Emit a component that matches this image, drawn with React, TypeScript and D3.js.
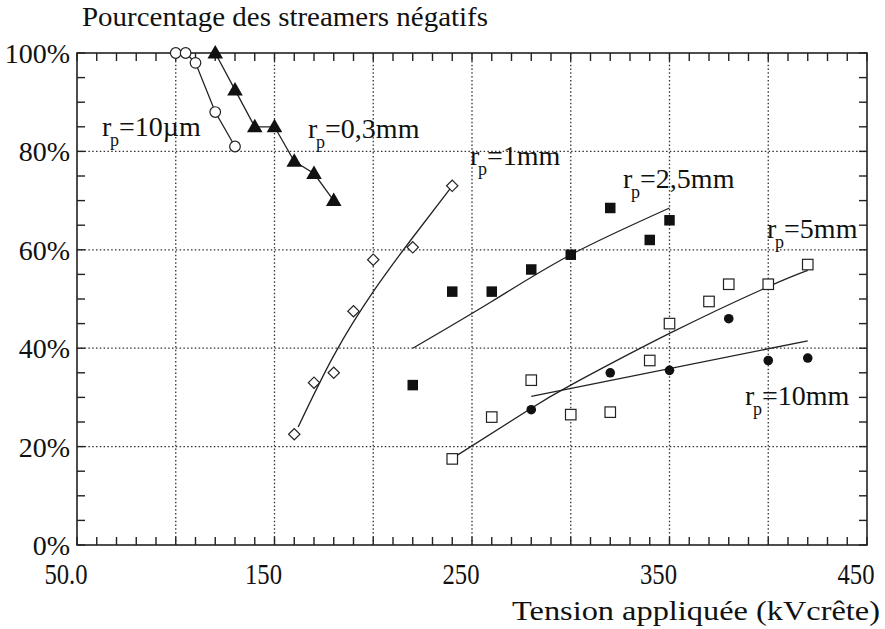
import React from "react";
import * as d3 from "d3";

// ---- data (kV crête, % streamers négatifs) ----
const rp10umV = [100, 105, 110, 120, 130];
const rp10umPct = [100, 100, 98, 88, 81];

const rp03mmV = [120, 130, 140, 150, 160, 170, 180];
const rp03mmPct = [100, 92.5, 85, 85, 78, 75.5, 70];

const rp1mmV = [160, 170, 180, 190, 200, 220, 240];
const rp1mmPct = [22.5, 33, 35, 47.5, 58, 60.5, 73];

const rp25mmV = [220, 240, 260, 280, 300, 320, 340, 350];
const rp25mmPct = [32.5, 51.5, 51.5, 56, 59, 68.5, 62, 66];

const rp5mmV = [240, 260, 280, 300, 320, 340, 350, 370, 380, 400, 420];
const rp5mmPct = [17.5, 26, 33.5, 26.5, 27, 37.5, 45, 49.5, 53, 53, 57];

const rp10mmV = [280, 320, 350, 380, 400, 420];
const rp10mmPct = [27.5, 35, 35.5, 46, 37.5, 38];

// fitted trend curves
const fit1mmV = [162, 180, 200, 220, 240];
const fit1mmPct = [24, 38.5, 51.5, 62.5, 73];
const fit25mmV = [220, 260, 300, 350];
const fit25mmPct = [40, 49.5, 59, 68.5];
const fit5mmV = [240, 280, 300, 350, 400, 420];
const fit5mmPct = [17.6, 27.8, 32.5, 43, 52.5, 55.8];
const fit10mmV = [280, 420];
const fit10mmPct = [30.2, 41.5];

const xTickValues = [50, 150, 250, 350, 450];
const xTickLabels = ["50.0", "150", "250", "350", "450"];
const yTickValues = [0, 20, 40, 60, 80, 100];
const yTickLabels = ["0%", "20%", "40%", "60%", "80%", "100%"];

const labelTexts = ["=10µm", "=0,3mm", "=1mm", "=2,5mm", "=5mm", "=10mm"];
const labelV = [62.7, 167, 249, 326.5, 399.4, 388.2];
const labelPct = [83.1, 82.7, 77.2, 72.6, 62.4, 28.5];

const titleText = "Pourcentage des streamers négatifs";
const xTitleText = "Tension appliquée (kVcrête)";

const W = 885;
const H = 629;
const FONT = "'Liberation Serif', 'Times New Roman', serif";

export default function App() {
  const x = d3.scaleLinear().domain([50, 450]).range([77, 867]);
  const y = d3.scaleLinear().domain([0, 100]).range([545, 53]);

  const zip = (vs: number[], ps: number[]) => vs.map((v, i) => [v, ps[i]] as [number, number]);
  const line = d3
    .line<[number, number]>()
    .x((d) => x(d[0]))
    .y((d) => y(d[1]));
  const curve = d3
    .line<[number, number]>()
    .x((d) => x(d[0]))
    .y((d) => y(d[1]))
    .curve(d3.curveNatural);

  const minorX = d3.range(50, 451, 10);
  const minorY = d3.range(0, 101, 5);
  const gridX = [100, 150, 200, 250, 300, 350, 400];
  const gridY = [20, 40, 60, 80];

  const triPath = d3.symbol(d3.symbolTriangle, 105)()!;
  const sqSize = 10.5;

  return (
    <svg width={W} height={H} style={{ display: "block", position: "absolute", left: 0, top: 0, background: "#fff" }}>
      <rect x={0} y={0} width={W} height={H} fill="#fff" />
      {/* grid */}
      <g stroke="#333" strokeWidth={1.3} strokeDasharray="1.5 2.3">
        {gridX.map((v) => (
          <line key={"gx" + v} x1={x(v)} x2={x(v)} y1={y(0)} y2={y(100)} />
        ))}
        {gridY.map((v) => (
          <line key={"gy" + v} x1={x(50)} x2={x(450)} y1={y(v)} y2={y(v)} />
        ))}
      </g>
      {/* ticks */}
      <g stroke="#222" strokeWidth={1.4}>
        {minorX.map((v) => (
          <g key={"tx" + v}>
            <line x1={x(v)} x2={x(v)} y1={y(0)} y2={y(0) - 8} />
            <line x1={x(v)} x2={x(v)} y1={y(100)} y2={y(100) + 8} />
          </g>
        ))}
        {minorY.map((v) => (
          <g key={"ty" + v}>
            <line x1={x(50)} x2={x(50) + 8} y1={y(v)} y2={y(v)} />
            <line x1={x(450)} x2={x(450) - 8} y1={y(v)} y2={y(v)} />
          </g>
        ))}
      </g>
      <rect x={x(50)} y={y(100)} width={x(450) - x(50)} height={y(0) - y(100)} fill="none" stroke="#222" strokeWidth={1.6} />

      {/* fit curves and connecting lines */}
      <g fill="none" stroke="#222" strokeWidth={1.3}>
        <path d={curve(zip(fit1mmV, fit1mmPct))!} />
        <path d={curve(zip(fit25mmV, fit25mmPct))!} />
        <path d={curve(zip(fit5mmV, fit5mmPct))!} />
        <path d={line(zip(fit10mmV, fit10mmPct))!} />
        <path d={line(zip(rp10umV, rp10umPct))!} />
        <path d={line(zip(rp03mmV, rp03mmPct))!} />
      </g>

      {/* markers */}
      {zip(rp10umV, rp10umPct).map((d, i) => (
        <circle key={"c" + i} cx={x(d[0])} cy={y(d[1])} r={5.3} fill="#fff" stroke="#222" strokeWidth={1.2} />
      ))}
      {zip(rp03mmV, rp03mmPct).map((d, i) => (
        <path key={"t" + i} d={triPath} transform={`translate(${x(d[0])},${y(d[1]) + 1})`} fill="#111" />
      ))}
      {zip(rp1mmV, rp1mmPct).map((d, i) => (
        <rect
          key={"d" + i}
          x={-4}
          y={-4}
          width={8}
          height={8}
          transform={`translate(${x(d[0])},${y(d[1])}) rotate(45)`}
          fill="#fff"
          stroke="#222"
          strokeWidth={1.2}
        />
      ))}
      {zip(rp25mmV, rp25mmPct).map((d, i) => (
        <rect key={"fs" + i} x={x(d[0]) - sqSize / 2} y={y(d[1]) - sqSize / 2} width={sqSize} height={sqSize} fill="#111" />
      ))}
      {zip(rp5mmV, rp5mmPct).map((d, i) => (
        <rect
          key={"os" + i}
          x={x(d[0]) - sqSize / 2}
          y={y(d[1]) - sqSize / 2}
          width={sqSize}
          height={sqSize}
          fill="#fff"
          stroke="#222"
          strokeWidth={1.2}
        />
      ))}
      {zip(rp10mmV, rp10mmPct).map((d, i) => (
        <circle key={"fc" + i} cx={x(d[0])} cy={y(d[1])} r={4.8} fill="#111" />
      ))}

      {/* labels */}
      <g style={{ fontFamily: FONT }} fill="#111">
        {labelTexts.map((t, i) => {
          const lx = x(labelV[i]);
          const ly = y(labelPct[i]);
          return (
            <g key={"l" + i}>
              <text x={lx} y={ly} fontSize={28}>r</text>
              <text x={lx + 8} y={ly + 10} fontSize={18}>p</text>
              <text x={lx + 17} y={ly} fontSize={28}>{t}</text>
            </g>
          );
        })}
        {/* y tick labels */}
        {yTickValues.map((v, i) => (
          <text key={"yl" + v} x={70} y={y(v) + 10} fontSize={28} textAnchor="end">
            {yTickLabels[i]}
          </text>
        ))}
        {/* x tick labels */}
        {xTickValues.map((v, i) => (
          <text
            key={"xl" + v}
            transform={`translate(${x(v) - 11},584) scale(0.85,1)`}
            fontSize={29}
            textAnchor="middle"
          >
            {xTickLabels[i]}
          </text>
        ))}
        <text x={82} y={26} fontSize={27} textLength={406} lengthAdjust="spacingAndGlyphs">
          {titleText}
        </text>
        <text x={512} y={620} fontSize={28} textLength={368} lengthAdjust="spacingAndGlyphs">
          {xTitleText}
        </text>
      </g>
    </svg>
  );
}
